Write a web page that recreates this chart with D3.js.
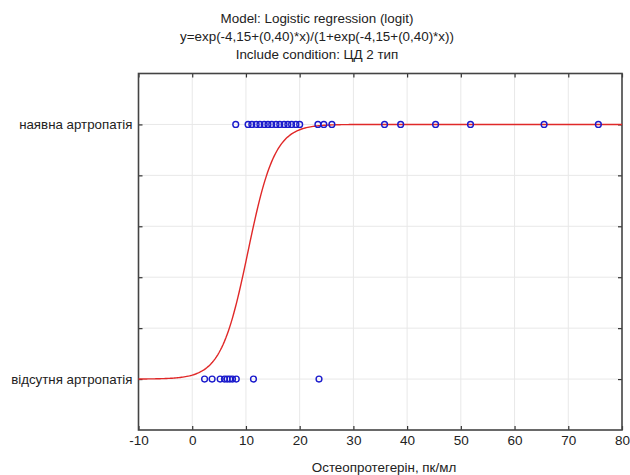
<!DOCTYPE html>
<html>
<head>
<meta charset="utf-8">
<script src="https://cdn.jsdelivr.net/npm/d3@7/dist/d3.min.js"></script>
<style>
  body { margin: 0; background: #fff; }
  svg text { font-family: "Liberation Sans", Arial, sans-serif; fill: #222; }
</style>
</head>
<body>
<svg id="chart" width="630" height="475"></svg>
<script>
// chart values
var titleLines = [
  'Model: Logistic regression (logit)',
  'y=exp(-4,15+(0,40)*x)/(1+exp(-4,15+(0,40)*x))',
  'Include condition: ЦД 2 тип'
];
var xLabel = 'Остеопротегерін, пк/мл';
var yCategories = ['відсутня артропатія', 'наявна артропатія'];
var xTicks = [-10, 0, 10, 20, 30, 40, 50, 60, 70, 80];
var yTicks = [0, 0.2, 0.4, 0.6, 0.8, 1.0];

// observed points, outcome = 1
var presentX = [8.1, 10.4, 11.1, 11.9, 12.6, 13.4, 14.1, 14.8, 15.6, 16.3, 17.1, 17.8, 18.5, 19.3, 20.0,
  23.4, 24.5, 26.0, 35.8, 38.8, 45.3, 51.8, 65.5, 75.6];
// observed points, outcome = 0
var absentX = [2.3, 3.7, 5.2, 6.0, 6.5, 7.0, 7.5, 8.2, 11.4, 23.6];

// model coefficients from the title
var intercept = -4.15;
var slope = 0.40;

var svg = d3.select('#chart');
var plotL = 138.5, plotR = 622, plotT = 73.5, plotB = 430;

var x = d3.scaleLinear().domain([-10, 80]).range([plotL, plotR]);
var y = d3.scaleLinear().domain([-0.2, 1.2]).range([plotB, plotT]);

// grid
var grid = svg.append('g');
grid.selectAll('line.vx')
  .data(xTicks.slice(1, -1))
  .enter().append('line')
  .attr('x1', function(d) { return x(d); })
  .attr('x2', function(d) { return x(d); })
  .attr('y1', plotT).attr('y2', plotB)
  .attr('stroke', '#e8e8e8').attr('stroke-width', 1);
grid.selectAll('line.hy')
  .data(yTicks)
  .enter().append('line')
  .attr('y1', function(d) { return y(d); })
  .attr('y2', function(d) { return y(d); })
  .attr('x1', plotL).attr('x2', plotR)
  .attr('stroke', '#e8e8e8').attr('stroke-width', 1);

// axes with inward ticks
var bottomAxis = d3.axisBottom(x).tickValues(xTicks).tickSize(-4).tickPadding(5)
  .tickFormat(function(d) { return String(d); });
var gB = svg.append('g').attr('transform', 'translate(0,' + plotB + ')').call(bottomAxis);
gB.selectAll('text').style('font-size', '13.5px').attr('fill', '#222');

var topAxis = d3.axisTop(x).tickValues(xTicks).tickSize(-4).tickFormat('');
svg.append('g').attr('transform', 'translate(0,' + plotT + ')').call(topAxis);

var leftAxis = d3.axisLeft(y).tickValues(yTicks).tickSize(-4)
  .tickFormat(function(d) { return d === 0 ? yCategories[0] : (d === 1 ? yCategories[1] : ''); })
  .tickPadding(6);
var gL = svg.append('g').attr('transform', 'translate(' + plotL + ',0)').call(leftAxis);
gL.selectAll('text').style('font-size', '13.3px').attr('fill', '#222');

var rightAxis = d3.axisRight(y).tickValues(yTicks).tickSize(-4).tickFormat('');
svg.append('g').attr('transform', 'translate(' + plotR + ',0)').call(rightAxis);

svg.selectAll('.domain').remove();
svg.selectAll('.tick line').attr('stroke', '#333').attr('stroke-width', 1.2);

// frame
svg.append('rect')
  .attr('x', plotL).attr('y', plotT)
  .attr('width', plotR - plotL).attr('height', plotB - plotT)
  .attr('fill', 'none').attr('stroke', '#444').attr('stroke-width', 1.6);

// fitted curve
var curveX = d3.range(-10, 80.01, 0.25);
var line = d3.line()
  .x(function(d) { return x(d); })
  .y(function(d) {
    var e = Math.exp(intercept + slope * d);
    return y(e / (1 + e));
  });
svg.append('path')
  .datum(curveX)
  .attr('d', line)
  .attr('fill', 'none')
  .attr('stroke', '#e02828')
  .attr('stroke-width', 1.4);

// points
var pts = presentX.map(function(v) { return [v, 1]; })
  .concat(absentX.map(function(v) { return [v, 0]; }));
svg.append('g').selectAll('circle')
  .data(pts)
  .enter().append('circle')
  .attr('cx', function(d) { return x(d[0]); })
  .attr('cy', function(d) { return y(d[1]); })
  .attr('r', 2.9)
  .attr('fill', 'none')
  .attr('stroke', '#1a1acc')
  .attr('stroke-width', 1.4);

// titles
svg.append('g').selectAll('text')
  .data(titleLines)
  .enter().append('text')
  .attr('x', 317)
  .attr('y', function(d, i) { return 22.5 + i * 18.3; })
  .attr('text-anchor', 'middle')
  .style('font-size', '13.4px')
  .text(function(d) { return d; });

svg.append('text')
  .attr('x', 384).attr('y', 472)
  .attr('text-anchor', 'middle')
  .style('font-size', '13.4px')
  .text(xLabel);
</script>
</body>
</html>
